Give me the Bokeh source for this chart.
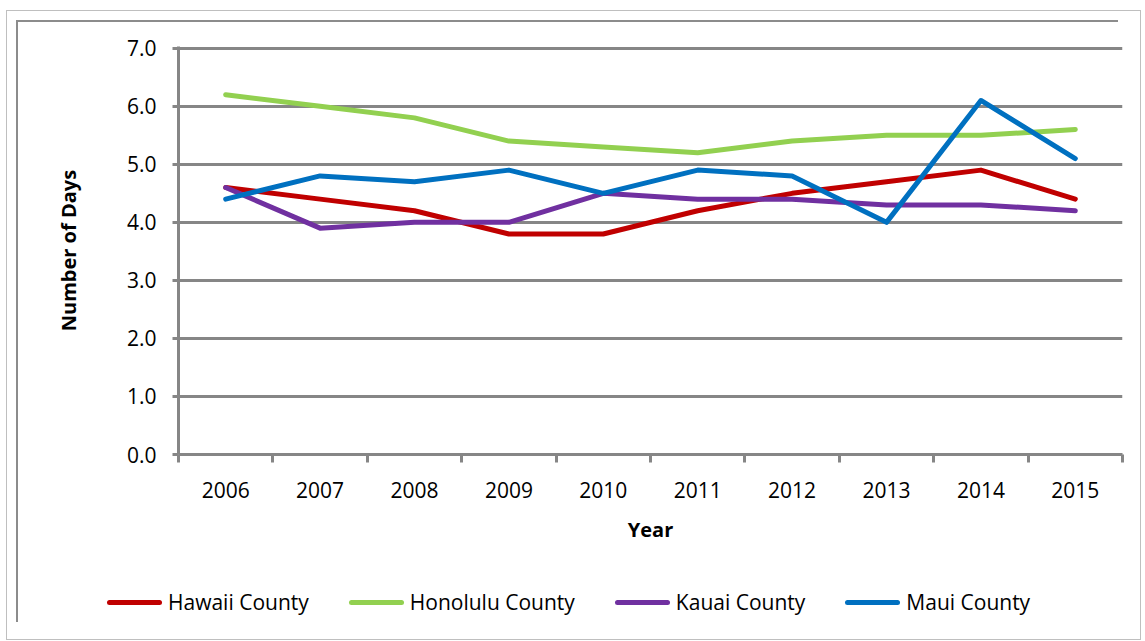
from bokeh.plotting import figure
from bokeh.layouts import column
from bokeh.models import (Range1d, FixedTicker, Div,
                          CustomJSTickFormatter, InlineStyleSheet)
from bokeh.embed import file_html
from bokeh.resources import INLINE

years = [2006, 2007, 2008, 2009, 2010, 2011, 2012, 2013, 2014, 2015]
hawaii = [4.6, 4.4, 4.2, 3.8, 3.8, 4.2, 4.5, 4.7, 4.9, 4.4]
honolulu = [6.2, 6.0, 5.8, 5.4, 5.3, 5.2, 5.4, 5.5, 5.5, 5.6]
kauai = [4.6, 3.9, 4.0, 4.0, 4.5, 4.4, 4.4, 4.3, 4.3, 4.2]
maui = [4.4, 4.8, 4.7, 4.9, 4.5, 4.9, 4.8, 4.0, 6.1, 5.1]
series_names = ["Hawaii County", "Honolulu County", "Kauai County", "Maui County"]
series_colors = ["#C00000", "#92D050", "#7030A0", "#0070C0"]
y_ticks = [0, 1, 2, 3, 4, 5, 6, 7]
series_values = [hawaii, honolulu, kauai, maui]

FONT = "Open Sans"
GRID = "#868686"

border_css = InlineStyleSheet(css="""
:host::before { content: ""; position: absolute; left: 6px; top: 10px; width: 1133px; height: 628px;
  border: 1px solid #BFBFBF; pointer-events: none; z-index: 10; }
:host::after { content: ""; position: absolute; left: 16px; top: 20px; width: 1100px; height: 600px;
  border-left: 2px solid #8C8C8C; border-top: 2px solid #8C8C8C; pointer-events: none; z-index: 10; }
""")

# ---------- main chart ----------
p = figure(width=1129, height=570, output_backend="svg", toolbar_location=None,
           x_range=Range1d(years[0] - 0.5, years[-1] + 0.5),
           y_range=Range1d(0, 7.03),
           min_border_left=178, min_border_right=7,
           min_border_top=46, min_border_bottom=116)
p.outline_line_color = None
p.background_fill_color = "white"
p.border_fill_color = "white"

for vals, col in zip(series_values, series_colors):
    p.line(years, vals, line_color=col, line_width=5, line_cap="round", line_join="round")

p.xgrid.visible = False
p.ygrid.ticker = FixedTicker(ticks=y_ticks)
p.ygrid.grid_line_color = GRID
p.ygrid.grid_line_width = 3

ya = p.yaxis[0]
ya.ticker = FixedTicker(ticks=y_ticks)
ya.formatter = CustomJSTickFormatter(code="return tick.toFixed(1);")
ya.axis_line_color = GRID
ya.axis_line_width = 3
ya.major_tick_line_color = GRID
ya.major_tick_line_width = 3
ya.major_tick_out = 6
ya.major_tick_in = 0
ya.minor_tick_line_color = None
ya.major_label_text_font = FONT
ya.major_label_text_font_size = "21px"
ya.major_label_text_color = "black"
ya.major_label_standoff = 16
ya.axis_label = "Number of Days"
ya.axis_label_text_font = FONT
ya.axis_label_text_font_size = "20px"
ya.axis_label_text_font_style = "bold"
ya.axis_label_text_color = "black"
ya.axis_label_standoff = 42

xa = p.xaxis[0]
xa.ticker = FixedTicker(ticks=years, minor_ticks=[y - 0.5 for y in years] + [years[-1] + 0.5])
xa.formatter = CustomJSTickFormatter(code="return tick.toFixed(0);")
xa.axis_line_color = GRID
xa.axis_line_width = 3
xa.major_tick_line_color = None
xa.major_tick_out = 0
xa.major_tick_in = 0
xa.minor_tick_line_color = GRID
xa.minor_tick_line_width = 3
xa.minor_tick_out = 8
xa.minor_tick_in = 0
xa.major_label_text_font = FONT
xa.major_label_text_font_size = "21px"
xa.major_label_text_color = "black"
xa.major_label_standoff = 19
xa.axis_label = "Year"
xa.axis_label_text_font = FONT
xa.axis_label_text_font_size = "20px"
xa.axis_label_text_font_style = "bold"
xa.axis_label_text_color = "black"
xa.axis_label_standoff = 15

# ---------- legend row (built from the series names/colours) ----------
entries = "".join(
    f'<span style="display:inline-block;width:55px;height:5px;border-radius:3px;'
    f'background:{c};margin-right:6px;"></span>'
    f'<span style="margin-right:40px;">{n}</span>'
    for n, c in zip(series_names, series_colors))
legend_html = (f'<div style="display:flex;align-items:center;height:64px;padding-left:107px;'
               f'font-family:\'{FONT}\';font-size:21px;color:black;white-space:nowrap;">'
               f'{entries}</div>')
legend_div = Div(text=legend_html, width=1129, height=64, margin=0)

layout = column(p, legend_div, spacing=0, stylesheets=[border_css])

open("out.html", "w").write(file_html(layout, INLINE))
